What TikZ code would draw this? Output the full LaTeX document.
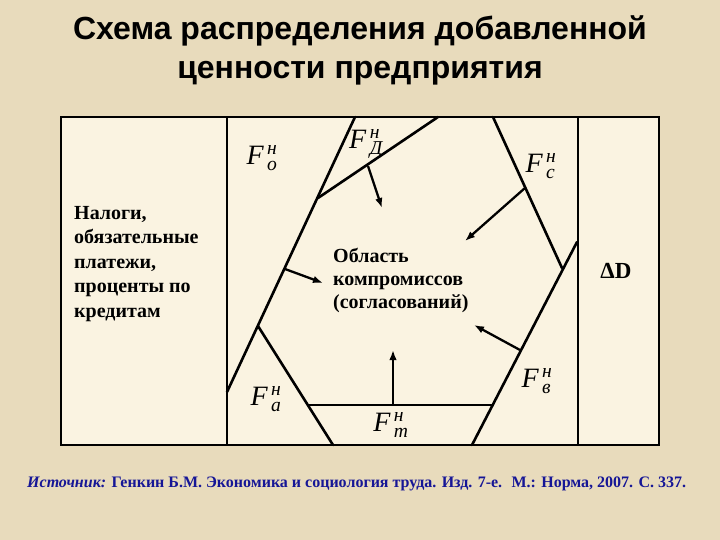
\documentclass[tikz,border=0pt]{standalone}
\usepackage{fontspec}
\usepackage{amsmath}
\setmainfont{Liberation Serif}
\newfontfamily\titlefont{Liberation Sans}
\usetikzlibrary{arrows.meta}

\definecolor{paper}{RGB}{232,219,188}
\definecolor{sheet}{RGB}{250,243,225}
\definecolor{srcblue}{RGB}{22,22,150}

\tikzset{
  frame/.style={line width=2.6pt},
  divider/.style={line width=2pt},
  cut/.style={line width=2.6pt, line cap=round},
  push/.style={line width=2.3pt, -{Latex[length=10pt,width=7.5pt]}},
  flabel/.style={font=\fontsize{28}{28}\selectfont},
  btext/.style={align=left, anchor=north west, inner sep=0pt,
    font=\fontsize{20}{24.5}\selectfont\bfseries},
  headline/.style={anchor=base, font=\titlefont\fontsize{32}{32}\selectfont\bfseries},
}
\newcommand{\Fsym}[2]{$\textit{F}^{\,\textit{#1}}_{\,\textit{#2}}$}

\begin{document}
\begin{tikzpicture}[x=1pt, y=-1pt]

\fill[paper] (0,0) rectangle (720,540);
\useasboundingbox (0,0) rectangle (720,540);

% title
\node[headline] (title1) at (360,40) {Схема распределения добавленной};
\node[headline] (title2) at (360,79) {ценности предприятия};

% frame
\filldraw[fill=sheet, frame] (61,117) rectangle (659,445);
\draw[divider] (227,117) -- (227,445);
\draw[divider] (578,117) -- (578,445);

% points of the cut lines
\coordinate (a1) at (227,392);
\coordinate (a2) at (355,117);
\coordinate (d1) at (318,198);
\coordinate (d2) at (438,117);
\coordinate (c1) at (493,117);
\coordinate (c2) at (562,268);
\coordinate (b1) at (577,242);
\coordinate (b2) at (472,445);
\coordinate (f1) at (258,326);
\coordinate (f2) at (333,445);
\coordinate (t1) at (308,405);
\coordinate (t2) at (492,405);

\draw[cut] (a1) -- (a2);
\draw[cut] (d1) -- (d2);
\draw[cut] (c1) -- (c2);
\draw[cut] (b1) -- (b2);
\draw[cut] (f1) -- (f2);
\draw[cut] (t1) -- (t2);

% arrows into the region
\coordinate (pd) at (368,166);
\coordinate (qd) at (382,208);
\coordinate (pc) at (525,188);
\coordinate (qc) at (465,241);
\coordinate (pb) at (520,350);
\coordinate (qb) at (474,325);
\coordinate (pt) at (393,405);
\coordinate (qt) at (393,350);
\coordinate (pa) at (285,269);
\coordinate (qa) at (323,283);

\draw[push] (pd) -- (qd);
\draw[push] (pc) -- (qc);
\draw[push] (pb) -- (qb);
\draw[push] (pt) -- (qt);
\draw[push] (pa) -- (qa);

% labels
\node[flabel] (Fo) at (262,158) {\Fsym{н}{о}};
\node[flabel] (Fd) at (366,144) {\Fsym{н}{Д}};
\node[flabel] (Fc) at (541,166) {\Fsym{н}{с}};
\node[flabel] (Fv) at (537,381) {\Fsym{н}{в}};
\node[flabel] (Fa) at (266,399) {\Fsym{н}{а}};
\node[flabel] (Ft) at (391,425) {\Fsym{н}{т}};

\node[btext] (taxes) at (74,206) {Налоги,\\обязательные\\платежи,\\проценты по\\кредитам};
\node[btext, font=\fontsize{20}{23}\selectfont\bfseries] (area) at (333,248) {Область\\компромиссов\\(согласований)};
\node[anchor=base, inner sep=0pt, font=\fontsize{23}{23}\selectfont\bfseries] (dD) at (616,278) {ΔD};

% source
\node[anchor=base west, inner sep=0pt, text=srcblue, font=\fontsize{16}{16}\selectfont\bfseries] (src) at (27,487)
  {\textit{Источник:} Генкин Б.М. Экономика и социология труда. Изд. 7-е.~ М.: Норма, 2007. С. 337.};

\end{tikzpicture}
\end{document}
